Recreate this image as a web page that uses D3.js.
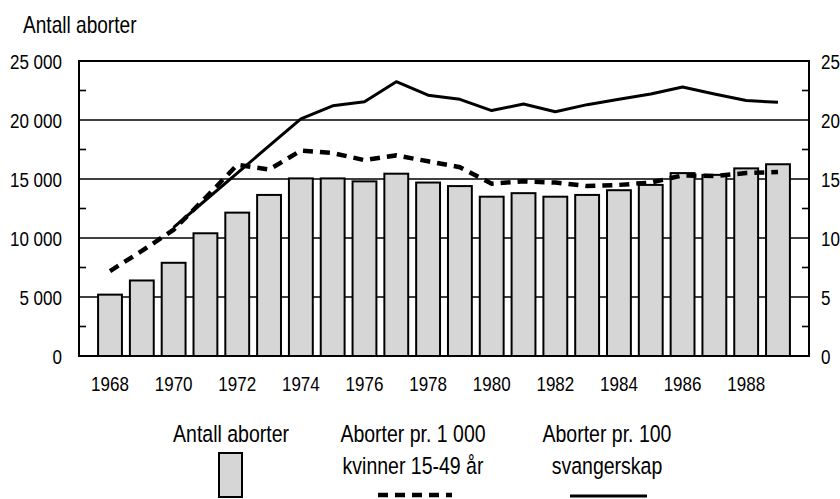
<!DOCTYPE html>
<html>
<head>
<meta charset="utf-8">
<script src="https://cdn.jsdelivr.net/npm/d3@7"></script>
<style>
  html, body { margin: 0; padding: 0; background: #fff; }
  svg { display: block; font-family: "Liberation Sans", Arial, sans-serif; }
</style>
</head>
<body>
<svg id="chart" width="840" height="499"></svg>
<script>
// --- Data ---
const years = d3.range(1968, 1990);
const antallAborter = [5200, 6400, 7900, 10400, 12150, 13650, 15050, 15050, 14800, 15450,
  14700, 14400, 13500, 13800, 13500, 13650, 14050, 14500, 15500, 15350, 15900, 16250];
// Aborter pr. 1 000 kvinner 15-49 år (right axis)
const perThousandWomen = [7.2, 8.9, 10.7, 13.4, 16.2, 15.8, 17.4, 17.2, 16.6, 17.0,
  16.5, 16.0, 14.6, 14.8, 14.7, 14.4, 14.5, 14.7, 15.3, 15.25, 15.5, 15.6];
// Aborter pr. 100 svangerskap (right axis), from 1970
const perHundredPregYears = d3.range(1970, 1990);
const perHundredPreg = [10.9, 13.2, 15.5, 17.8, 20.1, 21.2, 21.55, 23.25, 22.1, 21.75,
  20.8, 21.35, 20.7, 21.3, 21.75, 22.2, 22.8, 22.2, 21.65, 21.5];
const leftTicks = [0, 5000, 10000, 15000, 20000, 25000];
const rightTicks = [0, 5, 10, 15, 20, 25];
const minorTicks = [2500, 7500, 12500, 17500, 22500];
const yearLabels = years.filter(y => y % 2 === 0);

// --- Layout ---
const plotL = 79, plotR = 809, plotT = 61, plotB = 356;
const narrow = 0.83; // the original font is a condensed grotesk
const svg = d3.select("#chart");

const x = d3.scaleBand().domain(years).range([plotL, plotR])
  .paddingInner(0.25).paddingOuter(0.6);
const y = d3.scaleLinear().domain([0, 25000]).range([plotB, plotT]);
const y2 = d3.scaleLinear().domain([0, 25]).range([plotB, plotT]);
const fmt = v => d3.format(",")(v).replace(/,/g, " ");
const squeeze = (px, py) => `translate(${px},${py}) scale(${narrow},1)`;

// title
svg.append("text").attr("transform", squeeze(23, 33))
  .attr("font-size", 23).text("Antall aborter");

// horizontal grid lines
svg.append("g").selectAll("line").data(leftTicks.slice(1, -1)).join("line")
  .attr("x1", plotL).attr("x2", plotR)
  .attr("y1", d => y(d)).attr("y2", d => y(d))
  .attr("stroke", "#000").attr("stroke-width", 1.6);

// minor ticks, inward on both sides
svg.append("g").selectAll("line").data(minorTicks).join("line")
  .attr("x1", plotL).attr("x2", plotL + 7)
  .attr("y1", d => y(d)).attr("y2", d => y(d))
  .attr("stroke", "#000").attr("stroke-width", 1.6);
svg.append("g").selectAll("line").data(minorTicks).join("line")
  .attr("x1", plotR - 7).attr("x2", plotR)
  .attr("y1", d => y(d)).attr("y2", d => y(d))
  .attr("stroke", "#000").attr("stroke-width", 1.6);

// bars
svg.append("g").selectAll("rect").data(years).join("rect")
  .attr("x", d => x(d))
  .attr("y", (d, i) => y(antallAborter[i]))
  .attr("width", x.bandwidth())
  .attr("height", (d, i) => plotB - y(antallAborter[i]))
  .attr("fill", "#d6d6d6").attr("stroke", "#000").attr("stroke-width", 2);

// frame
svg.append("rect").attr("x", plotL).attr("y", plotT)
  .attr("width", plotR - plotL).attr("height", plotB - plotT)
  .attr("fill", "none").attr("stroke", "#000").attr("stroke-width", 2);

// lines
const cx = d => x(d) + x.bandwidth() / 2;
svg.append("path")
  .attr("d", d3.line().x(d => cx(d[0])).y(d => y2(d[1]))(perHundredPregYears.map((yr, i) => [yr, perHundredPreg[i]])))
  .attr("fill", "none").attr("stroke", "#000").attr("stroke-width", 3)
  .attr("stroke-linejoin", "round");
svg.append("path")
  .attr("d", d3.line().x(d => cx(d[0])).y(d => y2(d[1]))(years.map((yr, i) => [yr, perThousandWomen[i]])))
  .attr("fill", "none").attr("stroke", "#000").attr("stroke-width", 4.5)
  .attr("stroke-dasharray", "10,7");

// left labels
svg.append("g").selectAll("text").data(leftTicks).join("text")
  .attr("transform", d => squeeze(62, y(d) + 8))
  .attr("text-anchor", "end").attr("font-size", 20.5)
  .text(fmt);
// right labels
svg.append("g").selectAll("text").data(rightTicks).join("text")
  .attr("transform", d => squeeze(821, y2(d) + 8))
  .attr("font-size", 20.5)
  .text(d => d);
// year labels
svg.append("g").selectAll("text").data(yearLabels).join("text")
  .attr("transform", d => squeeze(cx(d), 391))
  .attr("text-anchor", "middle").attr("font-size", 20.5)
  .text(d => d);

// legend
const legendText = [
  { cx: 231, lines: ["Antall aborter"] },
  { cx: 413, lines: ["Aborter pr. 1 000", "kvinner 15-49 år"] },
  { cx: 607, lines: ["Aborter pr. 100", "svangerskap"] }
];
legendText.forEach(l => {
  l.lines.forEach((t, j) => {
    svg.append("text").attr("transform", squeeze(l.cx, 442 + j * 32))
      .attr("text-anchor", "middle").attr("font-size", 23.5).text(t);
  });
});
svg.append("rect").attr("x", 219).attr("y", 453).attr("width", 23).attr("height", 44)
  .attr("fill", "#d6d6d6").attr("stroke", "#000").attr("stroke-width", 2);
svg.append("line").attr("x1", 378).attr("x2", 452).attr("y1", 495).attr("y2", 495)
  .attr("stroke", "#000").attr("stroke-width", 4.5).attr("stroke-dasharray", "10,7");
svg.append("line").attr("x1", 570).attr("x2", 647).attr("y1", 496).attr("y2", 496)
  .attr("stroke", "#000").attr("stroke-width", 3);
</script>
</body>
</html>
